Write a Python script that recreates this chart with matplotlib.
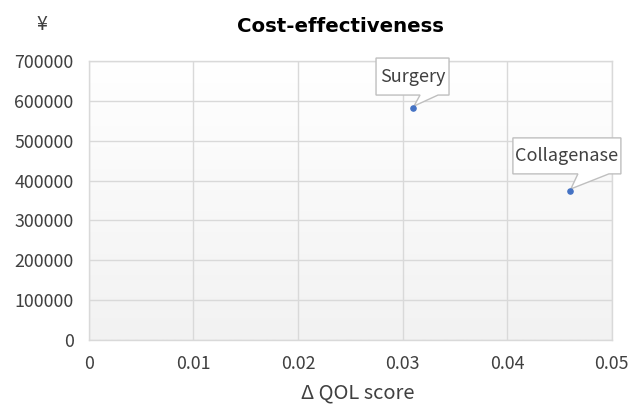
import numpy as np
import matplotlib
matplotlib.use("Agg")
import matplotlib.pyplot as plt
from matplotlib.colors import LinearSegmentedColormap
from matplotlib.patches import Polygon
from matplotlib.transforms import ScaledTranslation

plt.rcParams["font.family"] = ["Noto Sans CJK JP", "DejaVu Sans"]

TREATMENTS = ["Surgery", "Collagenase"]
DELTA_QOL = [0.031, 0.046]
COST_YEN = [582000, 374000]
X_TICKS = [0, 0.01, 0.02, 0.03, 0.04, 0.05]
X_TICK_LABELS = ["0", "0.01", "0.02", "0.03", "0.04", "0.05"]
Y_TICKS = [0, 100000, 200000, 300000, 400000, 500000, 600000, 700000]

GRID = "#d9d9d9"
TEXT = "#404040"
POINT = "#4472c4"
BOX_EDGE = "#bfbfbf"

# callout geometry in pixels relative to the marked point (y up):
# (box left, box right, box bottom, box top, tail base left, tail base right)
CALLOUTS = [(-37, 36, 13, 50, 7, 25), (-57, 51, 17, 53, 8, 39)]


def callout(ax, fig, x, y, name, geom):
    left, right, bottom, top, t0, t1 = [v / 100 for v in geom]
    trans = fig.dpi_scale_trans + ScaledTranslation(x, y, ax.transData)
    verts = [(left, top), (right, top), (right, bottom), (t1, bottom),
             (0.01, 0.02), (t0, bottom), (left, bottom)]
    ax.add_patch(Polygon(verts, closed=True, transform=trans, fc="white",
                         ec=BOX_EDGE, lw=1, zorder=5, clip_on=False))
    ax.text((left + right) / 2, (top + bottom) / 2, name, transform=trans,
            ha="center", va="center", fontsize=13, color=TEXT, zorder=6)


def main() -> None:
    fig = plt.figure(figsize=(6.3, 4.07), dpi=100)
    ax = fig.add_axes([0.141, 0.165, 0.830, 0.685])

    # plot area gradient: white at top -> light grey at bottom
    grad = np.linspace(1.0, 0.0, 256).reshape(-1, 1)
    ax.imshow(grad, extent=[0, 1, 0, 1], transform=ax.transAxes, aspect="auto",
              cmap=LinearSegmentedColormap.from_list("bg", ["#f2f2f2", "#ffffff"]),
              zorder=0)

    ax.scatter(DELTA_QOL, COST_YEN, s=14, color=POINT, zorder=7)

    ax.set_xlim(0, 0.05)
    ax.set_ylim(0, 700000)
    ax.set_xticks(X_TICKS)
    ax.set_xticklabels(X_TICK_LABELS)
    ax.set_yticks(Y_TICKS)
    ax.tick_params(length=0, labelsize=12.8, colors=TEXT)
    ax.tick_params(axis="y", pad=11)
    ax.tick_params(axis="x", pad=11)
    ax.grid(True, color=GRID, lw=1, zorder=1)
    ax.set_axisbelow(True)
    for sp in ax.spines.values():
        sp.set_color(GRID)
        sp.set_linewidth(1)

    for name, x, y, geom in zip(TREATMENTS, DELTA_QOL, COST_YEN, CALLOUTS):
        callout(ax, fig, x, y, name, geom)

    fig.text(0.54, 0.936, "Cost-effectiveness", ha="center", va="center",
             fontsize=14.2, fontweight="bold", color="black", family="DejaVu Sans")
    fig.text(0.067, 0.939, "¥", ha="center", va="center", fontsize=14, color=TEXT)
    ax.set_xlabel("Δ QOL score", fontsize=14.5, color=TEXT, labelpad=7, x=0.514)

    fig.savefig("out.png", dpi=100)
    plt.close(fig)


if __name__ == "__main__":
    main()
